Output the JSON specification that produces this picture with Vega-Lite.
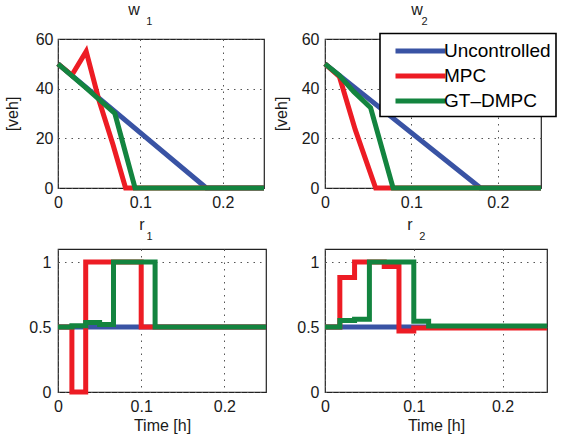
{
  "$schema": "https://vega.github.io/schema/vega-lite/v6.json",
  "padding": {"left": 3, "top": 0, "right": 0, "bottom": 0},
  "background": "white",
  "config": {
    "font": "Liberation Sans",
    "view": {"stroke": "#222", "strokeWidth": 1.2},
    "axis": {
      "labelFont": "Liberation Sans", "labelFontSize": 16, "labelColor": "#1a1a1a",
      "titleFont": "Liberation Sans", "titleFontSize": 16, "titleFontWeight": "normal", "titleColor": "#1a1a1a",
      "ticks": false, "domain": false, "grid": true, "gridColor": "#555", "gridDash": [1.5, 5], "gridWidth": 1,
      "labelFlush": false, "labelOverlap": false, "format": "~g"
    },
    "legend": {"strokeWidth": 1.6},
    "title": {
      "font": "Liberation Sans", "fontSize": 16, "fontWeight": "normal", "color": "#1a1a1a",
      "subtitleFont": "Liberation Sans", "subtitleFontSize": 11, "subtitleColor": "#1a1a1a",
      "subtitlePadding": -2, "offset": 4.5, "anchor": "middle"
    },
    "line": {"strokeWidth": 5, "clip": true}
  },
  "datasets": {
    "w1": [
      {"t": 0, "v": 50, "s": "Uncontrolled"}, {"t": 0.18, "v": 0, "s": "Uncontrolled"}, {"t": 0.25, "v": 0, "s": "Uncontrolled"},
      {"t": 0, "v": 50, "s": "MPC"}, {"t": 0.0167, "v": 45.4, "s": "MPC"}, {"t": 0.0342, "v": 55, "s": "MPC"}, {"t": 0.05, "v": 35, "s": "MPC"}, {"t": 0.0667, "v": 17.5, "s": "MPC"}, {"t": 0.082, "v": 0, "s": "MPC"}, {"t": 0.25, "v": 0, "s": "MPC"},
      {"t": 0, "v": 50, "s": "GT–DMPC"}, {"t": 0.0333, "v": 40.5, "s": "GT–DMPC"}, {"t": 0.069, "v": 30, "s": "GT–DMPC"}, {"t": 0.0935, "v": 0, "s": "GT–DMPC"}, {"t": 0.25, "v": 0, "s": "GT–DMPC"}
    ],
    "w2": [
      {"t": 0, "v": 50, "s": "Uncontrolled"}, {"t": 0.18, "v": 0, "s": "Uncontrolled"}, {"t": 0.25, "v": 0, "s": "Uncontrolled"},
      {"t": 0, "v": 50, "s": "MPC"}, {"t": 0.0167, "v": 44.8, "s": "MPC"}, {"t": 0.035, "v": 23.5, "s": "MPC"}, {"t": 0.0586, "v": 0, "s": "MPC"}, {"t": 0.25, "v": 0, "s": "MPC"},
      {"t": 0, "v": 50, "s": "GT–DMPC"}, {"t": 0.0167, "v": 45.3, "s": "GT–DMPC"}, {"t": 0.0333, "v": 38.8, "s": "GT–DMPC"}, {"t": 0.0528, "v": 32.3, "s": "GT–DMPC"}, {"t": 0.0788, "v": 0, "s": "GT–DMPC"}, {"t": 0.25, "v": 0, "s": "GT–DMPC"}
    ],
    "r1": [
      {"t": 0, "v": 0.5, "s": "Uncontrolled"}, {"t": 0.25, "v": 0.5, "s": "Uncontrolled"},
      {"t": 0, "v": 0.5, "s": "MPC"}, {"t": 0.0167, "v": 0, "s": "MPC"}, {"t": 0.0333, "v": 1, "s": "MPC"}, {"t": 0.1, "v": 0.5, "s": "MPC"}, {"t": 0.25, "v": 0.5, "s": "MPC"},
      {"t": 0, "v": 0.5, "s": "GT–DMPC"}, {"t": 0.0167, "v": 0.51, "s": "GT–DMPC"}, {"t": 0.0333, "v": 0.535, "s": "GT–DMPC"}, {"t": 0.05, "v": 0.52, "s": "GT–DMPC"}, {"t": 0.0667, "v": 1, "s": "GT–DMPC"}, {"t": 0.1167, "v": 0.5, "s": "GT–DMPC"}, {"t": 0.25, "v": 0.5, "s": "GT–DMPC"}
    ],
    "r2": [
      {"t": 0, "v": 0.5, "s": "Uncontrolled"}, {"t": 0.25, "v": 0.5, "s": "Uncontrolled"},
      {"t": 0, "v": 0.5, "s": "MPC"}, {"t": 0.0167, "v": 0.88, "s": "MPC"}, {"t": 0.0333, "v": 1, "s": "MPC"}, {"t": 0.0667, "v": 0.965, "s": "MPC"}, {"t": 0.0833, "v": 0.47, "s": "MPC"}, {"t": 0.1, "v": 0.493, "s": "MPC"}, {"t": 0.25, "v": 0.493, "s": "MPC"},
      {"t": 0, "v": 0.5, "s": "GT–DMPC"}, {"t": 0.0167, "v": 0.55, "s": "GT–DMPC"}, {"t": 0.0333, "v": 0.56, "s": "GT–DMPC"}, {"t": 0.05, "v": 1, "s": "GT–DMPC"}, {"t": 0.1, "v": 0.545, "s": "GT–DMPC"}, {"t": 0.1167, "v": 0.508, "s": "GT–DMPC"}, {"t": 0.25, "v": 0.508, "s": "GT–DMPC"}
    ]
  },
  "columns": 2,
  "bounds": "flush",
  "align": "each",
  "spacing": {"row": 61, "column": 59},
  "resolve": {"scale": {"color": "independent"}, "legend": {"color": "independent"}},
  "concat": [
    {
      "width": 206, "height": 149,
      "title": {"text": "w", "subtitle": "\u200d\u00a0\u00a0\u00a0\u00a0\u00a0\u00a0\u00a0\u00a0\u00a0\u00a01", "dx": -27},
      "data": {"name": "w1"},
      "mark": {"type": "line"},
      "encoding": {
        "x": {"field": "t", "type": "quantitative", "scale": {"domain": [0, 0.25], "nice": false},
              "axis": {"values": [0, 0.1, 0.2], "title": null, "labelPadding": 6}},
        "y": {"field": "v", "type": "quantitative", "scale": {"domain": [0, 60], "nice": false},
              "axis": {"values": [0, 20, 40, 60], "format": "d", "title": "[veh]", "labelPadding": 5, "titlePadding": 15}},
        "color": {"field": "s", "type": "nominal", "sort": null,
                  "scale": {"domain": ["Uncontrolled", "MPC", "GT–DMPC"], "range": ["#3953A4", "#ED1C24", "#13843F"]},
                  "legend": null}
      }
    },
    {
      "width": 216, "height": 149,
      "title": {"text": "w", "subtitle": "\u200d\u00a0\u00a0\u00a0\u00a0\u00a02", "dx": -16},
      "data": {"name": "w2"},
      "mark": {"type": "line"},
      "encoding": {
        "x": {"field": "t", "type": "quantitative", "scale": {"domain": [0, 0.25], "nice": false},
              "axis": {"values": [0, 0.1, 0.2], "title": null, "labelPadding": 6}},
        "y": {"field": "v", "type": "quantitative", "scale": {"domain": [0, 60], "nice": false},
              "axis": {"values": [0, 20, 40, 60], "format": "d", "title": "[veh]", "labelPadding": 6, "titlePadding": 12}},
        "color": {"field": "s", "type": "nominal", "sort": null,
                  "scale": {"domain": ["Uncontrolled", "MPC", "GT–DMPC"], "range": ["#3953A4", "#ED1C24", "#13843F"]},
                  "legend": {"orient": "none", "legendX": 55, "legendY": -5.5, "title": null,
                             "symbolType": "M-2.5,0H2.5", "symbolSize": 400, "symbolStrokeWidth": 5, "symbolOffset": 23,
                             "labelFont": "Liberation Sans", "labelFontSize": 19, "labelColor": "#000", "labelOffset": 11,
                             "padding": 5, "rowPadding": 2, "strokeColor": "#000", "fillColor": "#fff"}}
      }
    },
    {
      "width": 208, "height": 143,
      "title": {"text": "r", "subtitle": "\u200d\u00a0\u00a0\u00a0\u00a0\u00a01", "dx": -20, "offset": 7},
      "data": {"name": "r1"},
      "mark": {"type": "line", "interpolate": "step-after"},
      "encoding": {
        "x": {"field": "t", "type": "quantitative", "scale": {"domain": [0, 0.25], "nice": false},
              "axis": {"values": [0, 0.1, 0.2], "title": "Time [h]", "labelPadding": 6, "titlePadding": 3}},
        "y": {"field": "v", "type": "quantitative", "scale": {"domain": [0, 1.1], "nice": false},
              "axis": {"values": [0, 0.5, 1], "title": null, "labelPadding": 7}},
        "color": {"field": "s", "type": "nominal", "sort": null,
                  "scale": {"domain": ["Uncontrolled", "MPC", "GT–DMPC"], "range": ["#3953A4", "#ED1C24", "#13843F"]},
                  "legend": null}
      }
    },
    {
      "width": 222, "height": 143,
      "title": {"text": "r", "subtitle": "\u200d\u00a0\u00a0\u00a0\u00a0\u00a0\u00a0\u00a0\u00a02", "dx": -26, "offset": 7},
      "data": {"name": "r2"},
      "mark": {"type": "line", "interpolate": "step-after"},
      "encoding": {
        "x": {"field": "t", "type": "quantitative", "scale": {"domain": [0, 0.25], "nice": false},
              "axis": {"values": [0, 0.1, 0.2], "title": "Time [h]", "labelPadding": 6, "titlePadding": 3}},
        "y": {"field": "v", "type": "quantitative", "scale": {"domain": [0, 1.1], "nice": false},
              "axis": {"values": [0, 0.5, 1], "title": null, "labelPadding": 6}},
        "color": {"field": "s", "type": "nominal", "sort": null,
                  "scale": {"domain": ["Uncontrolled", "MPC", "GT–DMPC"], "range": ["#3953A4", "#ED1C24", "#13843F"]},
                  "legend": null}
      }
    }
  ]
}
